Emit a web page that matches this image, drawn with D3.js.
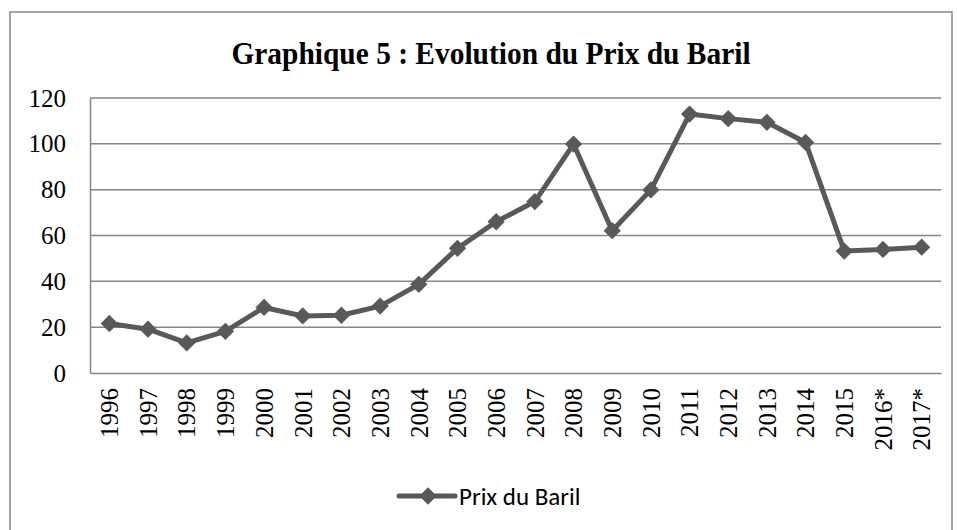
<!DOCTYPE html>
<html>
<head>
<meta charset="utf-8">
<script src="https://cdn.jsdelivr.net/npm/d3@7"></script>
<style>
  body { margin: 0; background: #fff; }
  svg { display: block; }
</style>
</head>
<body>
<svg width="957" height="530"></svg>
<script>
var years = ["1996", "1997", "1998", "1999", "2000", "2001", "2002", "2003", "2004", "2005", "2006",
             "2007", "2008", "2009", "2010", "2011", "2012", "2013", "2014", "2015", "2016*", "2017*"];
var prix = [21.6, 19.1, 13.1, 18.2, 28.6, 24.9, 25.2, 29.2, 38.7, 54.4, 66.0,
            74.8, 99.9, 62.1, 79.9, 113.0, 111.0, 109.4, 100.6, 53.2, 53.9, 54.9];
var yTicks = [0, 20, 40, 60, 80, 100, 120];
var seriesName = "Prix du Baril";

var svg = d3.select("svg"), width = +svg.attr("width"),
    height = +svg.attr("height");

var grey = "#868686", lineColor = "#595959";
var serif = "'Liberation Serif', 'Times New Roman', serif";
var plot = {left: 90, right: 941, top: 98, bottom: 373};

// outer frame
svg.append("rect")
    .attr("x", 10).attr("y", 12)
    .attr("width", 942).attr("height", 540)
    .attr("fill", "none").attr("stroke", grey).attr("stroke-width", 1.5);

// title (glyphs in the source are a bit condensed)
svg.append("g")
    .attr("transform", "translate(491,64) scale(0.92,1)")
    .append("text")
    .attr("text-anchor", "middle")
    .style("font-family", serif)
    .style("font-weight", "bold").style("font-size", "32px")
    .text("Graphique 5 : Evolution du Prix du Baril");

var x = d3.scaleBand().domain(years).range([plot.left, plot.right]);
var y = d3.scaleLinear().domain([0, 120]).range([plot.bottom, plot.top]);

// gridlines
svg.append("g")
    .selectAll("line")
    .data(yTicks.filter(function(d) { return d > 0; }))
    .enter()
    .append("line")
    .attr("x1", plot.left).attr("x2", plot.right)
    .attr("y1", function(d) { return y(d); })
    .attr("y2", function(d) { return y(d); })
    .attr("stroke", grey).attr("stroke-width", 1.5);

var yAxis = svg.append("g")
    .attr("transform", "translate(" + plot.left + ",0)")
    .call(d3.axisLeft(y).tickValues(yTicks).tickSize(0).tickPadding(24));
yAxis.select(".domain").attr("stroke", grey).attr("stroke-width", 1.5);
yAxis.selectAll("text")
    .style("font-family", serif)
    .style("font-size", "25px").attr("fill", "#000");

var xAxis = svg.append("g")
    .attr("transform", "translate(0," + plot.bottom + ")")
    .call(d3.axisBottom(x).tickSize(0).tickSizeOuter(0));
xAxis.select(".domain").attr("stroke", grey).attr("stroke-width", 1.5);
xAxis.selectAll("text")
    .style("font-family", serif)
    .style("font-size", "25px").attr("fill", "#000")
    .attr("text-anchor", "end")
    .attr("dy", "0.35em")
    .attr("transform", "translate(0,15) rotate(-90)")
    .attr("x", 0).attr("y", 0);

var cx = function(d, i) { return x(years[i]) + x.bandwidth() / 2; };

svg.append("path")
    .datum(prix)
    .attr("fill", "none")
    .attr("stroke", lineColor)
    .attr("stroke-width", 5)
    .attr("stroke-linejoin", "round")
    .attr("d", d3.line().x(cx).y(function(d) { return y(d); }));

var diamond = d3.symbol().type(d3.symbolDiamond2).size(190);
svg.append("g")
    .selectAll("path")
    .data(prix)
    .enter()
    .append("path")
    .attr("d", diamond)
    .attr("fill", lineColor)
    .attr("transform", function(d, i) { return "translate(" + cx(d, i) + "," + y(d) + ")"; });

// legend
var lg = svg.append("g").attr("transform", "translate(399,496)");
lg.append("line")
    .attr("x1", 0).attr("x2", 56)
    .attr("stroke", lineColor).attr("stroke-width", 5).attr("stroke-linecap", "round");
lg.append("path")
    .attr("d", diamond)
    .attr("fill", lineColor)
    .attr("transform", "translate(29,0)");
lg.append("text")
    .attr("x", 60).attr("y", 0).attr("dy", "0.35em")
    .style("font-family", "Carlito, 'Open Sans', sans-serif")
    .style("font-size", "25px")
    .text(seriesName);
</script>
</body>
</html>
